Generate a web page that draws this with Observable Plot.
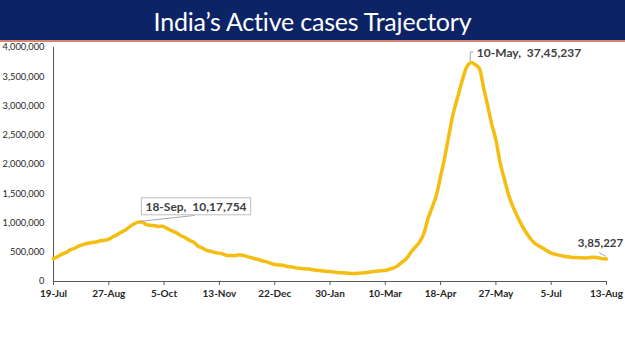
<!DOCTYPE html>
<html><head><meta charset="utf-8">
<script src="https://cdn.jsdelivr.net/npm/d3@7"></script>
<script src="https://cdn.jsdelivr.net/npm/@observablehq/plot@0.6"></script>
<style>
body{margin:0;background:#fff;width:625px;height:351px;overflow:hidden;font-family:Lato,sans-serif}
#title{height:40px;background:#0c2466;border-bottom:2px solid #d9826f;color:#fff;text-align:center;font-size:25px;line-height:42px;font-family:Lato,sans-serif;letter-spacing:-0.2px}
</style></head><body>
<div id="title">India’s Active cases Trajectory</div>
<div id="chart"></div>
<script>
// Active cases by date
const dates = [
"2020-07-19","2020-07-22","2020-07-25","2020-07-28","2020-07-31","2020-08-03","2020-08-06","2020-08-09","2020-08-12","2020-08-15",
"2020-08-18","2020-08-21","2020-08-24","2020-08-27","2020-08-30","2020-09-02","2020-09-05","2020-09-08","2020-09-11","2020-09-14",
"2020-09-16","2020-09-18","2020-09-20","2020-09-22","2020-09-25","2020-09-28","2020-10-01","2020-10-04","2020-10-07","2020-10-11",
"2020-10-14","2020-10-17","2020-10-20","2020-10-23","2020-10-26","2020-10-29","2020-11-01","2020-11-04","2020-11-07","2020-11-10",
"2020-11-13","2020-11-16","2020-11-19","2020-11-22","2020-11-24","2020-11-26","2020-11-28","2020-12-01","2020-12-04","2020-12-07",
"2020-12-10","2020-12-13","2020-12-16","2020-12-19","2020-12-22","2020-12-25","2020-12-28","2020-12-31","2021-01-03","2021-01-06",
"2021-01-09","2021-01-12","2021-01-15","2021-01-18","2021-01-21","2021-01-24","2021-01-27","2021-01-30","2021-02-02","2021-02-05",
"2021-02-08","2021-02-11","2021-02-14","2021-02-17","2021-02-20","2021-02-23","2021-02-26","2021-03-01","2021-03-04","2021-03-07",
"2021-03-10","2021-03-13","2021-03-16","2021-03-19","2021-03-22","2021-03-25","2021-03-28","2021-03-31","2021-04-03","2021-04-06",
"2021-04-09","2021-04-12","2021-04-15","2021-04-18","2021-04-21","2021-04-24","2021-04-27","2021-04-30","2021-05-03","2021-05-06",
"2021-05-08","2021-05-10","2021-05-12","2021-05-14","2021-05-16","2021-05-18","2021-05-21","2021-05-24","2021-05-27","2021-05-30",
"2021-06-02","2021-06-05","2021-06-08","2021-06-11","2021-06-14","2021-06-17","2021-06-20","2021-06-23","2021-06-26","2021-06-29",
"2021-07-02","2021-07-05","2021-07-08","2021-07-11","2021-07-14","2021-07-17","2021-07-20","2021-07-23","2021-07-26","2021-07-29",
"2021-08-01","2021-08-04","2021-08-07","2021-08-10","2021-08-13"];
const activeCases = [
390459,426167,467882,496988,545318,567730,607384,632017,653622,668220,
676514,697330,704348,725991,765302,801282,846395,883697,943480,986598,
1009976,1017754,1010824,975861,960969,956402,940441,944996,907883,861853,
826876,783311,748538,702064,668154,603687,570458,533787,516632,494657,
484547,465478,443794,443486,440000,452344,454940,438667,416082,396729,
378909,354904,339820,313831,289240,283849,277301,257656,250183,232624,
225449,216558,213027,200528,188688,184182,173740,169824,160057,151460,
148609,143625,136549,137342,143127,147306,159590,168627,176319,184598,
187462,210544,234406,271282,334646,395192,495000,584055,669000,808000,
1064000,1264698,1471877,1801316,2131110,2522000,2882204,3145000,3413642,3645164,
3723446,3745237,3712000,3680000,3600000,3353765,3027925,2695000,2419907,2026092,
1747000,1478000,1280000,1121671,973158,850000,743972,662521,612868,572994,
524000,485350,464357,446387,432041,421665,411408,409394,405513,403840,
408920,414159,406822,388508,385227];

const tickDates = ["2020-07-19","2020-08-27","2020-10-05","2020-11-13","2020-12-22","2021-01-30","2021-03-10","2021-04-18","2021-05-27","2021-07-05","2021-08-13"];
const tickLabels = ["19-Jul","27-Aug","5-Oct","13-Nov","22-Dec","30-Jan","10-Mar","18-Apr","27-May","5-Jul","13-Aug"];
const yTicks = [0,500000,1000000,1500000,2000000,2500000,3000000,3500000,4000000];

const annDates = ["2020-09-18","2021-05-10","2021-08-13"];
const annValues = [1017754,3745237,385227];
const annLabels = ["18-Sep,\u00a0 10,17,754","10-May,\u00a0 37,45,237","3,85,227"];

const parse = d3.utcParse("%Y-%m-%d");
const series = dates.map((d,i)=>({date:parse(d), value:activeCases[i]}));
const tickD = tickDates.map(parse);
const labelOf = new Map(tickD.map((d,i)=>[+d, tickLabels[i]]));
const ann = annDates.map((d,i)=>({date:parse(d), value:annValues[i], label:annLabels[i]}));

const axisColor = "#595959", textColor = "#404040";
const plot = Plot.plot({
  width: 625, height: 309,
  marginTop: 5, marginBottom: 70, marginLeft: 53, marginRight: 19,
  style: {fontFamily: "Lato, sans-serif", color: textColor, background: "#fff"},
  x: {type: "utc", domain: [tickD[0], tickD[tickD.length-1]]},
  y: {domain: [0, 4000000]},
  marks: [
    Plot.axisY({ticks: yTicks, tickSize: 0, tickPadding: 9, tickFormat: d3.format(","), label: null, fontSize: 9.3, fill: "#262626"}),
    Plot.axisX({ticks: tickD, tickFormat: d => labelOf.get(+d), tickSize: 4, tickPadding: 4, label: null, fontSize: 10, fontWeight: "bold", stroke: axisColor, fill: "#262626"}),
    Plot.ruleY([0], {stroke: axisColor, strokeWidth: 1}),
    Plot.ruleX([tickD[0]], {stroke: axisColor, strokeWidth: 1}),
    Plot.line(series, {x: "date", y: "value", stroke: "#f4bd10", strokeWidth: 3.5, strokeLinejoin: "round", curve: "monotone-x"}),
    Plot.text([ann[0]], {x: "date", y: "value", text: "label", dx: 56, dy: -15, fontSize: 12, fontWeight: "bold", fill: textColor}),
    Plot.text([ann[1]], {x: "date", y: "value", text: "label", dx: 5, dy: -9, textAnchor: "start", fontSize: 12, fontWeight: "bold", fill: textColor}),
    Plot.text([ann[2]], {x: "date", y: "value", text: "label", dx: -6, dy: -16, fontSize: 11.5, fontWeight: "bold", fill: textColor})
  ]
});
document.getElementById("chart").appendChild(plot);

// decorations: leader lines and a box behind the first label, positioned through the plot's scales
const sx = plot.scale("x"), sy = plot.scale("y");
const svg = d3.select(plot);
const pts = ann.map(a => [sx.apply(a.date), sy.apply(a.value)]);
const g = svg.append("g").attr("fill", "none").attr("stroke", "#a6a6a6").attr("stroke-width", 1);
g.append("path").attr("d", `M${pts[0][0]},${pts[0][1]}L${pts[0][0]+55},${pts[0][1]-6}`);
g.append("path").attr("d", `M${pts[1][0]-1},${pts[1][1]-1}L${pts[1][0]-1},${pts[1][1]-10}L${pts[1][0]+2},${pts[1][1]-10}`);
g.append("path").attr("d", `M${pts[2][0]-7},${pts[2][1]-6}L${pts[2][0]},${pts[2][1]-2}`);

const boxText = Array.from(plot.querySelectorAll("text")).find(t => (t.textContent || "").indexOf("10,17,754") >= 0);
if (boxText) {
  const r = boxText.getBBox();
  const layer = svg.append("g");
  const rect = layer.append("rect")
    .attr("x", r.x - 4).attr("y", r.y - 1).attr("width", r.width + 8).attr("height", r.height + 2)
    .attr("fill", "#fff").attr("stroke", "#bfbfbf").attr("stroke-width", 1);
  const tf = boxText.getAttribute("transform");
  if (tf) rect.attr("transform", tf);
  const pg = boxText.parentNode;
  const ptf = pg && pg.getAttribute ? pg.getAttribute("transform") : null;
  if (ptf) layer.attr("transform", ptf);
  const clone = boxText.cloneNode(true);
  clone.setAttribute("fill", textColor);
  clone.setAttribute("font-size", "12");
  clone.setAttribute("font-weight", "bold");
  clone.setAttribute("font-family", "Lato, sans-serif");
  layer.node().appendChild(clone);
}
</script>
</body></html>
